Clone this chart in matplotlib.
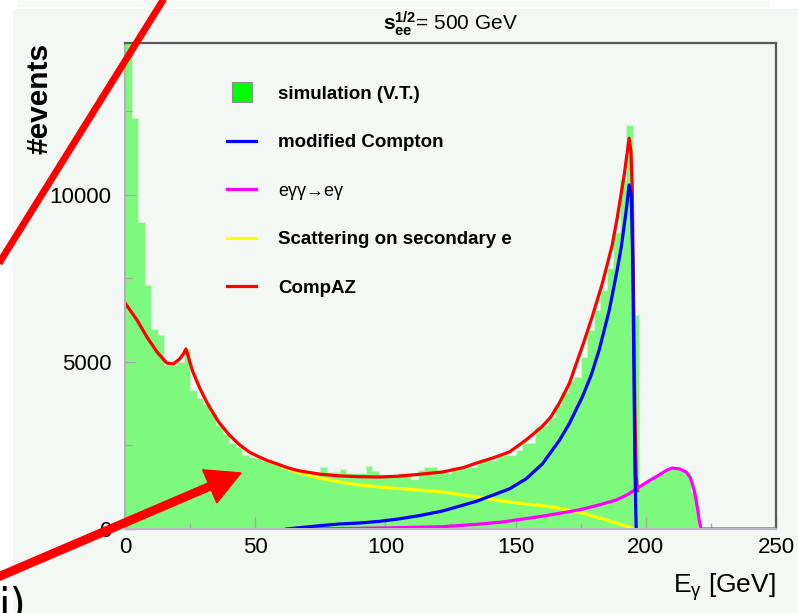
import numpy as np
import matplotlib
matplotlib.use("Agg")
import matplotlib.pyplot as plt
from matplotlib.lines import Line2D
from matplotlib.patches import Rectangle, FancyArrow

plt.rcParams['font.family'] = ['Liberation Sans', 'DejaVu Sans']
plt.rcParams['mathtext.fontset'] = 'custom'
plt.rcParams['mathtext.rm'] = 'Liberation Sans'
plt.rcParams['mathtext.it'] = 'Liberation Sans:italic'
plt.rcParams['mathtext.bf'] = 'Liberation Sans:bold'

# histogram: simulation (V.T.), 2.5 GeV bins from 0 to 250 GeV
bin_width = 2.5
sim_counts = [
    15000, 12300, 9200, 7300, 6000, 5800, 4900, 4900, 5000, 5390,
    4160, 3920, 3740, 3500, 3110, 2840, 2575, 2455, 2215, 2155,
    2125, 2050, 1975, 1975, 1825, 1760, 1705, 1705, 1705, 1705,
    1855, 1705, 1705, 1795, 1675, 1675, 1675, 1885, 1735, 1615,
    1615, 1615, 1675, 1675, 1500, 1765, 1855, 1855, 1705, 1675,
    1855, 1855, 1855, 1855, 2035, 2065, 2065, 2215, 2215, 2215,
    2365, 2575, 2575, 3050, 3110, 3350, 3710, 4100, 4460, 4550,
    5150, 5960, 6550, 7150, 7800, 8890, 10450, 12100, 6400, 1350,
    1450, 1600, 1700, 1800, 1850, 1800, 1700, 1100, 0, 0,
    0, 0, 0, 0, 0, 0, 0, 0, 0, 0,
]

# CompAZ (total)
red_e = [0, 4.6, 8.4, 12.3, 16, 18.5, 21, 22.5, 23.4, 24.2, 25, 26, 28.8, 31.4,
         33, 36, 40, 44, 48, 52, 55, 59.4, 63, 67, 75, 82.4, 90, 97.8, 105,
         112, 122, 130, 135, 141, 147.6, 154, 160, 163.5, 166.8, 170.6, 173.3,
         176, 179.4, 183.3, 187.1, 189, 191.7, 193.6, 194.3, 194.8, 195.3,
         195.8, 196.3, 196.8]
red_n = [6766, 6257, 5750, 5300, 4970, 4940, 5090, 5250, 5390, 5200, 4970, 4720,
         4200, 3800, 3580, 3200, 2820, 2520, 2290, 2140, 2040, 1920, 1820, 1740,
         1640, 1590, 1565, 1557, 1580, 1630, 1707, 1840, 1976, 2120, 2305, 2665,
         3054, 3350, 3772, 4350, 4950, 5550, 6350, 7350, 8500, 9300, 10600,
         11700, 11300, 10200, 7000, 3500, 1600, 1150]

# modified Compton
blue_e = [62, 67, 75, 82.4, 90, 97.8, 105, 113, 122, 135, 147.6, 154, 160.3,
          166.8, 170.6, 175.6, 179, 182.1, 186, 189, 190.6, 192.5, 193.6, 194.4,
          195.0, 195.4, 195.8, 196.3]
blue_n = [0, 40, 100, 150, 180, 230, 300, 400, 540, 830, 1200, 1500, 1950, 2650,
          3150, 3950, 4600, 5360, 6560, 7750, 8450, 9550, 10300, 10000, 8000,
          5000, 2000, 0]

# e gamma gamma -> e gamma
mag_e = [70, 80, 90, 105, 122, 135, 143.8, 147.6, 160, 170.6, 176, 182, 188.7,
         193, 197.5, 201, 205.1, 208, 210.1, 213, 215.5, 217, 217.8, 218.6,
         219.3, 220, 220.5, 221.2, 250]
mag_n = [0, 10, 20, 40, 70, 140, 200, 240, 380, 520, 600, 720, 870, 1030, 1257,
         1430, 1617, 1760, 1826, 1800, 1706, 1550, 1377, 1150, 868, 550, 270,
         0, 0]

# scattering on secondary e
yel_e = [55, 59.4, 63, 67, 75, 82.4, 90, 97.8, 105, 112, 122, 135, 147.6, 155,
         160.3, 166.8, 175.6, 184.8, 190, 194.8, 196]
yel_n = [2040, 1910, 1790, 1680, 1520, 1407, 1320, 1257, 1215, 1170, 1108, 958,
         808, 740, 700, 620, 479, 270, 150, 30, 0]

bg = '#f4f8f4'
green = '#7dfa7d'

fig = plt.figure(figsize=(7.98, 6.13), dpi=100, facecolor='white')
# slide background pieces
fig.add_artist(Rectangle((0.13, 0), 7.85, 6.04, transform=fig.dpi_scale_trans,
                         facecolor=bg, edgecolor='none', zorder=-10))
fig.add_artist(Rectangle((0.17, 6.06), 7.53, 0.07, transform=fig.dpi_scale_trans,
                         facecolor='#f6faf6', edgecolor='none', zorder=-10))

ax = fig.add_axes([125 / 798, 1 - 529 / 613, 651 / 798, 486 / 613])
ax.set_facecolor(bg)

edges = np.arange(len(sim_counts) + 1) * bin_width
ax.stairs(sim_counts, edges, fill=True, color=green, zorder=1)
ax.stairs(sim_counts, edges, color='#c9f5c9', lw=0.8, zorder=1.1)

lw = 2.3
ax.plot(yel_e, yel_n, color='#ffff00', lw=lw, zorder=2)
ax.plot(red_e, red_n, color='#ff0000', lw=lw, zorder=2.1)
ax.plot(mag_e, mag_n, color='#ff00ff', lw=lw, zorder=2.2)
ax.plot(blue_e, blue_n, color='#0000ff', lw=lw, zorder=2.3)

ax.set_xlim(0, 250)
ax.set_ylim(0, 14550)
ax.set_xticks([0, 50, 100, 150, 200, 250])
ax.set_xticks(np.arange(25, 250, 50), minor=True)
ax.set_yticks([0, 5000, 10000])
ax.set_yticks([2500, 7500, 12500], minor=True)

ax.tick_params(which='both', direction='in', colors='#a8a8a8', width=1.0,
               labelcolor='black', labelsize=16)
ax.tick_params(axis='x', which='major', length=9, pad=6)
ax.tick_params(axis='x', which='minor', length=4)
ax.tick_params(axis='y', which='major', length=8, pad=10)
ax.tick_params(axis='y', which='minor', length=5)

for side in ('top', 'right'):
    ax.spines[side].set_color('#5a5a5a')
    ax.spines[side].set_linewidth(1.6)
ax.spines['left'].set_color('#b0b0b0')
ax.spines['left'].set_linewidth(1.5)
ax.spines['bottom'].set_color('#bdb5c5')
ax.spines['bottom'].set_linewidth(1.5)

ax.set_xlabel(r'E$_{\mathrm{γ}}$ [GeV]', fontsize=19, loc='right')
ax.xaxis.set_label_coords(1.0, -0.088)
ax.set_ylabel('#events', fontsize=21.5, fontweight='bold', loc='top')
ax.yaxis.set_label_coords(-0.11, 1.0)

fig.text(450 / 798, 1 - 30 / 613,
         r'$\mathbf{s}_{\mathbf{ee}}^{\mathbf{1/2}}$= 500 GeV',
         ha='center', va='baseline', fontsize=15)

handles = [
    Line2D([], [], ls='none', marker='s', markersize=14, markerfacecolor='#00ff00',
           markeredgecolor='#909090', markeredgewidth=0.8),
    Line2D([], [], color='#0000ff', lw=2.3),
    Line2D([], [], color='#ff00ff', lw=2.3),
    Line2D([], [], color='#ffff00', lw=2.3),
    Line2D([], [], color='#ff0000', lw=2.3),
]
labels = ['simulation (V.T.)', 'modified Compton', 'eγγ→eγ',
          'Scattering on secondary e', 'CompAZ']
leg = ax.legend(handles, labels, loc='upper left', bbox_to_anchor=(0.143, 0.932),
                frameon=False, borderpad=0, handlelength=1.5, handletextpad=1.2,
                labelspacing=1.68, prop={'size': 13.5, 'weight': 'bold'})
leg.get_texts()[2].set_fontweight('normal')
leg.get_texts()[2].set_fontsize(13)

# red annotation strokes drawn over the slide
fig.add_artist(Line2D([1.65, -0.02], [6.16, 3.48], transform=fig.dpi_scale_trans,
                      color='#ff0000', lw=5, solid_capstyle='butt', zorder=10))
fig.add_artist(FancyArrow(-0.02, 0.36, 2.43, 1.04, width=0.075, head_width=0.36,
                          head_length=0.34, length_includes_head=True,
                          transform=fig.dpi_scale_trans, color='#ff0000',
                          zorder=10))
fig.text(-0.002, -0.01, 'i)', fontsize=30, family='DejaVu Sans',
         ha='left', va='baseline')

fig.savefig('out.png', dpi=100, facecolor=fig.get_facecolor())
